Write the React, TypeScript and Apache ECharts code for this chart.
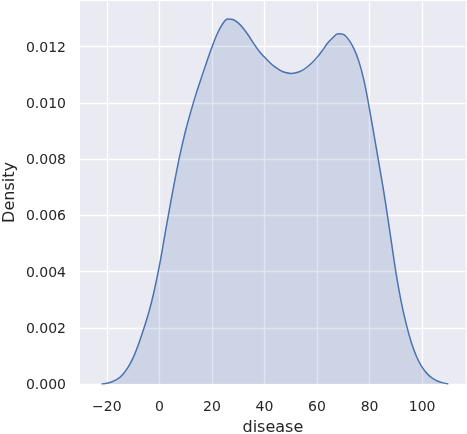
import React, { useEffect, useRef } from "react";
import * as echarts from "echarts";

const diseaseX: number[] = [
  -22, -20, -18, -16, -14, -12, -10, -8, -6, -4, -2, 0, 2, 4, 6, 8, 10, 12, 14, 16, 18, 20,
  22, 24, 26, 28, 30, 32, 34, 36, 38, 40, 42, 44, 46, 48, 50, 52, 54, 56, 58, 60, 62, 64,
  66, 68, 70, 72, 74, 76, 78, 80, 82, 84, 86, 88, 90, 92, 94, 96, 98, 100, 102, 104, 106,
  108, 110,
];
const densityY: number[] = [
  0.0, 0.00003, 0.00008, 0.00017, 0.00033, 0.00058, 0.00093, 0.0014, 0.00195, 0.00255,
  0.0033, 0.0042, 0.00525, 0.0063, 0.0073, 0.00822, 0.00902, 0.0097, 0.01033, 0.0109,
  0.01145, 0.01198, 0.01245, 0.0128, 0.01299, 0.01297, 0.01285, 0.01265, 0.01239, 0.0121,
  0.01184, 0.01163, 0.01144, 0.01128, 0.01116, 0.01108, 0.01105, 0.01107, 0.01114, 0.01126,
  0.01142, 0.01162, 0.01186, 0.01212, 0.01232, 0.01246, 0.01244, 0.01226, 0.01194, 0.01146,
  0.01075, 0.00977, 0.0087, 0.00762, 0.0065, 0.00525, 0.004, 0.00295, 0.00212, 0.00145,
  0.00095, 0.0006, 0.00036, 0.0002, 0.0001, 0.00004, 0.0,
];

const xTickStep = 20;
const yTickStep = 0.002;
const xLabel = "disease";
const yLabel = "Density";

export default function App() {
  const ref = useRef<HTMLDivElement>(null);
  useEffect(() => {
    if (!ref.current) return;
    const chart = echarts.init(ref.current, undefined, { renderer: "svg" });
    const font = "DejaVu Sans";
    const textColor = "#262626";
    chart.setOption({
      animation: false,
      grid: {
        left: 80,
        right: 1.3,
        top: 1,
        bottom: 50,
        show: true,
        backgroundColor: "#EAEAF2",
        borderWidth: 0,
        containLabel: false,
        outerBoundsMode: "none",
      },
      xAxis: {
        type: "value",
        min: -30.2,
        max: 116.6,
        minInterval: xTickStep,
        maxInterval: xTickStep,
        name: xLabel,
        nameLocation: "middle",
        nameGap: 34,
        nameMoveOverlap: false,
        nameTextStyle: { fontFamily: font, fontSize: 16, color: textColor },
        axisLine: { show: false },
        axisTick: { show: false },
        axisLabel: {
          fontFamily: font,
          fontSize: 14,
          color: textColor,
          margin: 15,
          showMinLabel: false,
          showMaxLabel: false,
          formatter: (v: number) =>
            Math.abs(v % xTickStep) < 1e-6 ? (v < 0 ? "\u2212" + Math.abs(v) : String(v)) : "",
        },
        splitLine: {
          show: true,
          showMinLine: false,
          showMaxLine: false,
          lineStyle: { color: "#ffffff", width: 1.3 },
        },
      },
      yAxis: {
        type: "value",
        min: 0,
        max: 0.013626,
        minInterval: yTickStep,
        maxInterval: yTickStep,
        name: yLabel,
        nameLocation: "middle",
        nameGap: 64,
        nameMoveOverlap: false,
        nameTextStyle: { fontFamily: font, fontSize: 16, lineHeight: 16, color: textColor },
        axisLine: { show: false },
        axisTick: { show: false },
        axisLabel: {
          fontFamily: font,
          fontSize: 14,
          color: textColor,
          margin: 14,
          showMaxLabel: false,
          formatter: (v: number) => v.toFixed(3),
        },
        splitLine: {
          show: true,
          showMaxLine: false,
          lineStyle: { color: "#ffffff", width: 1.3 },
        },
      },
      series: [
        {
          type: "line",
          data: diseaseX.map((x, i) => [x, densityY[i]]),
          smooth: 0.35,
          showSymbol: false,
          symbol: "none",
          lineStyle: { color: "#4C72B0", width: 1.5 },
          areaStyle: { color: "rgba(76,114,176,0.25)", origin: "start" },
        },
      ],
    });
    return () => chart.dispose();
  }, []);
  return (
    <div
      ref={ref}
      style={{ position: "fixed", left: 0, top: 0, width: 467, height: 434 }}
    />
  );
}
